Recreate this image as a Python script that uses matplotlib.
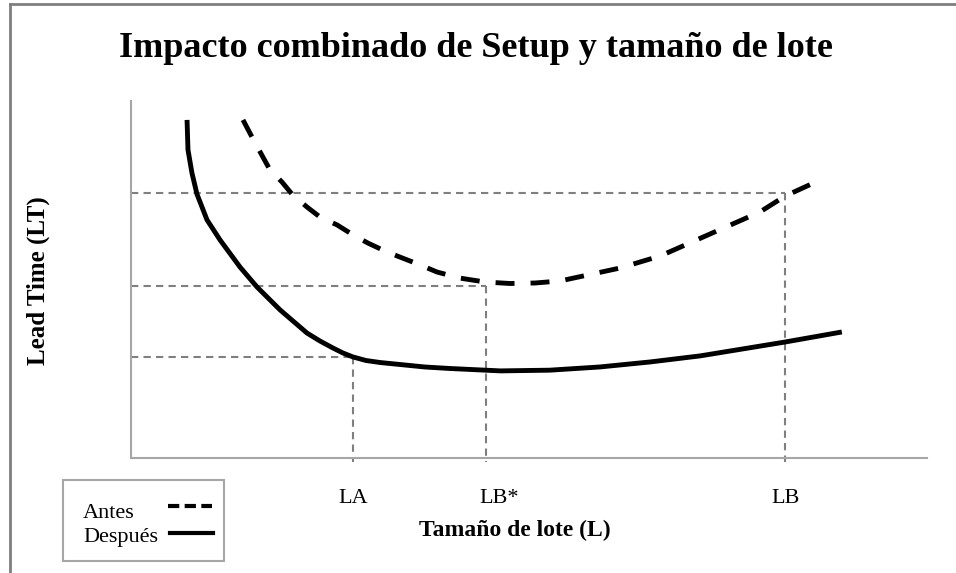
import matplotlib.pyplot as plt
from matplotlib.lines import Line2D
from matplotlib.patches import Rectangle

# curve readings (x: 0-100 along lot size, y: 0-100 along lead time)
despues_x = [7.04, 7.16, 7.66, 8.29, 9.55, 11.18, 13.69, 15.83, 18.72, 22.11, 23.74,
             25.38, 26.63, 27.89, 29.52, 31.28, 33.79, 36.93, 40.08, 46.4, 52.6,
             58.9, 65.2, 71.5, 82.2, 89.3]
despues_y = [94.7, 86.3, 79.8, 73.9, 66.7, 61.1, 53.5, 47.9, 41.5, 35.0, 32.77,
             30.8, 29.41, 28.3, 27.31, 26.75, 26.19, 25.49, 25.07, 24.4, 24.6,
             25.5, 26.9, 28.6, 32.5, 35.3]

antes_x = [14.07, 15.20, 16.08, 17.46, 18.97, 20.23, 22.11, 23.74, 25.88, 27.89, 29.77,
           32.16, 36.3, 38.44, 41.3, 44.47, 47.61, 50.75, 53.89, 61.4, 66.5, 73.0,
           79.0, 82.2, 86.9]
antes_y = [94.7, 89.9, 86.3, 80.7, 77.3, 73.9, 70.3, 67.5, 65.3, 62.5, 60.2,
           57.7, 54.1, 52.1, 50.4, 49.3, 48.88, 49.02, 49.58, 53.2, 56.6, 63.0,
           68.9, 73.4, 78.2]

# reference points
ref_labels = ['LA', 'LB*', 'LB']
ref_x = [27.9, 44.6, 82.2]
ref_y = [28.3, 48.2, 74.2]
ref_label_shift = [0, 13, 0]  # px, LB* label sits a bit right of its line

plt.rcParams['font.family'] = 'Liberation Serif'

W, H = 956, 573
fig = plt.figure(figsize=(W / 100, H / 100), dpi=100)
ax = fig.add_axes([131 / W, 1 - 458 / H, 796 / W, 357 / H])

gray = '#7f7f7f'
for xr, yr in zip(ref_x, ref_y):
    ax.plot([0, xr], [yr, yr], color=gray, lw=1.5, dashes=(3.5, 2.5))
    ax.plot([xr, xr], [yr, -1.2], color=gray, lw=1.5, dashes=(3.5, 2.5), clip_on=False)

ax.plot(antes_x, antes_y, color='black', lw=3.5, dashes=(3.9, 3.3),
        solid_capstyle='butt', dash_joinstyle='round')
ax.plot(despues_x, despues_y, color='black', lw=3.5, solid_capstyle='butt',
        solid_joinstyle='round')

ax.set_xlim(0, 100)
ax.set_ylim(0, 100)
ax.set_xticks([])
ax.set_yticks([])
for s in ['top', 'right']:
    ax.spines[s].set_visible(False)
for s in ['left', 'bottom']:
    ax.spines[s].set_color('#a6a6a6')
    ax.spines[s].set_linewidth(1.5)

# category labels under the axis
for lab, xr, dx in zip(ref_labels, ref_x, ref_label_shift):
    ax.annotate(lab, xy=(xr, 0), xycoords=('data', 'axes fraction'),
                xytext=(dx * 0.72, -45 * 0.72), textcoords='offset points',
                ha='center', va='baseline', fontsize=16)

fig.text(515 / W, 1 - 536 / H, 'Tamaño de lote (L)', fontsize=17, fontweight='bold',
         ha='center', va='baseline')
fig.text(38 / W, 1 - 281 / H, 'Lead Time (LT)', rotation=90, fontsize=18,
         fontweight='bold', ha='center', va='center')
fig.text(476 / W, 1 - 57 / H, 'Impacto combinado de Setup y tamaño de lote',
         fontsize=26, fontweight='bold', ha='center', va='baseline')

# legend box
fig.add_artist(Rectangle((63 / W, 1 - 561 / H), 161 / W, 81 / H, transform=fig.transFigure,
                         facecolor='white', edgecolor='#a6a6a6', lw=1.5))
fig.text(83 / W, 1 - 518 / H, 'Antes', fontsize=16, ha='left', va='baseline')
fig.text(83 / W, 1 - 542 / H, 'Después', fontsize=16, ha='left', va='baseline')
fig.add_artist(Line2D([168 / W, 212 / W], [1 - 506 / H, 1 - 506 / H], color='black',
                      lw=3, dashes=(2.7, 1.3), solid_capstyle='butt'))
fig.add_artist(Line2D([170 / W, 213 / W], [1 - 533 / H, 1 - 533 / H], color='black', lw=3))

# outer frame lines (top and left)
fig.add_artist(Line2D([10 / W, 1], [1 - 4 / H, 1 - 4 / H], color=gray, lw=2))
fig.add_artist(Line2D([10 / W, 10 / W], [0, 1 - 4 / H], color=gray, lw=2))

fig.savefig('out.png', dpi=100)
